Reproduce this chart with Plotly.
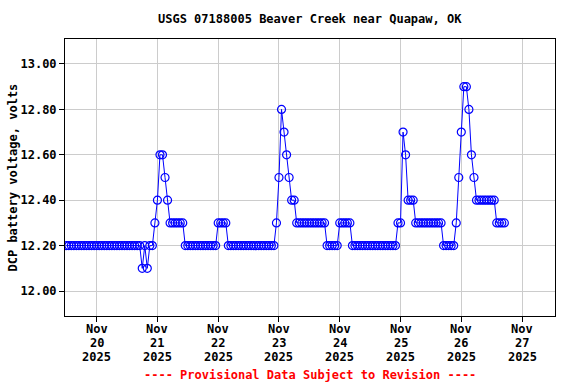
import plotly.graph_objects as go
import pandas as pd

start_time = "2025-11-19 12:00"
volts = [
    12.2, 12.2, 12.2, 12.2, 12.2, 12.2, 12.2, 12.2, 12.2, 12.2,
    12.2, 12.2, 12.2, 12.2, 12.2, 12.2, 12.2, 12.2, 12.2, 12.2,
    12.2, 12.2, 12.2, 12.2, 12.2, 12.2, 12.2, 12.2, 12.2, 12.2,
    12.1, 12.2, 12.1, 12.2, 12.2, 12.3, 12.4, 12.6, 12.6, 12.5,
    12.4, 12.3, 12.3, 12.3, 12.3, 12.3, 12.3,
    12.2, 12.2, 12.2, 12.2, 12.2, 12.2, 12.2, 12.2, 12.2, 12.2, 12.2, 12.2, 12.2,
    12.3, 12.3, 12.3, 12.3,
    12.2, 12.2, 12.2, 12.2, 12.2, 12.2, 12.2, 12.2, 12.2, 12.2,
    12.2, 12.2, 12.2, 12.2, 12.2, 12.2, 12.2, 12.2, 12.2,
    12.3, 12.5, 12.8, 12.7, 12.6, 12.5, 12.4, 12.4,
    12.3, 12.3, 12.3, 12.3, 12.3, 12.3, 12.3, 12.3, 12.3, 12.3, 12.3, 12.3,
    12.2, 12.2, 12.2, 12.2, 12.2,
    12.3, 12.3, 12.3, 12.3, 12.3,
    12.2, 12.2, 12.2, 12.2, 12.2, 12.2, 12.2, 12.2, 12.2,
    12.2, 12.2, 12.2, 12.2, 12.2, 12.2, 12.2, 12.2, 12.2,
    12.3, 12.3, 12.7, 12.6, 12.4, 12.4, 12.4,
    12.3, 12.3, 12.3, 12.3, 12.3, 12.3, 12.3, 12.3, 12.3, 12.3, 12.3,
    12.2, 12.2, 12.2, 12.2, 12.2,
    12.3, 12.5, 12.7, 12.9, 12.9, 12.8, 12.6, 12.5,
    12.4, 12.4, 12.4, 12.4, 12.4, 12.4, 12.4, 12.4,
    12.3, 12.3, 12.3, 12.3,
]
times = pd.date_range(start_time, periods=len(volts), freq="h")

tick_dates = ["2025-11-20", "2025-11-21", "2025-11-22", "2025-11-23",
              "2025-11-24", "2025-11-25", "2025-11-26", "2025-11-27"]
tick_month = ["Nov"] * 8
tick_day = ["20", "21", "22", "23", "24", "25", "26", "27"]
tick_year = ["2025"] * 8
y_ticks = [12.0, 12.2, 12.4, 12.6, 12.8, 13.0]
y_labels = ["12.00", "12.20", "12.40", "12.60", "12.80", "13.00"]

title_text = "USGS 07188005 Beaver Creek near Quapaw, OK"
ylabel_text = "DCP battery voltage, volts"
footer_text = "---- Provisional Data Subject to Revision ----"

FONT = "DejaVu Sans Mono"

fig = go.Figure()
fig.add_trace(go.Scatter(
    x=times, y=volts, mode="lines+markers",
    line=dict(color="#0000ff", width=1),
    marker=dict(symbol="circle-open", size=8, color="#0000ff", line=dict(width=1.2)),
    showlegend=False,
))

annotations = [
    dict(text="<b>" + title_text + "</b>", xref="paper", yref="paper",
         x=0.5, y=1, yshift=20, xanchor="center", yanchor="middle",
         showarrow=False, font=dict(family=FONT, size=12, color="black")),
    dict(text="<b>" + ylabel_text + "</b>", xref="paper", yref="paper",
         x=0, xshift=-53, y=0.5, textangle=-90, xanchor="center", yanchor="middle",
         showarrow=False, font=dict(family=FONT, size=12, color="black")),
    dict(text="<b>" + footer_text + "</b>", xref="paper", yref="paper",
         x=0.5, y=0, yshift=-59, xanchor="center", yanchor="middle",
         showarrow=False, font=dict(family=FONT, size=12, color="#ff0000")),
]
for d, m, dy, yr in zip(tick_dates, tick_month, tick_day, tick_year):
    for txt, shift in ((m, -13), (dy, -27), (yr, -41)):
        annotations.append(dict(
            text="<b>" + txt + "</b>", xref="x", yref="paper", x=d, y=0,
            yshift=shift, xanchor="center", yanchor="middle", showarrow=False,
            borderpad=0,
            font=dict(family=FONT, size=12, color="black")))

fig.update_layout(
    width=576, height=384,
    margin=dict(l=65, r=21, t=39, b=68),
    paper_bgcolor="white", plot_bgcolor="white",
    font=dict(family=FONT, size=12, color="black"),
    xaxis=dict(
        range=["2025-11-19 11:30", "2025-11-27 13:00"],
        tickmode="array", tickvals=tick_dates, ticktext=[""] * len(tick_dates),
        showgrid=True, gridcolor="#cccccc", gridwidth=1,
        showline=True, linecolor="black", linewidth=1, mirror=True,
        ticks="outside", ticklen=5, tickcolor="black",
        zeroline=False,
    ),
    yaxis=dict(
        range=[11.89, 13.11],
        tickmode="array", tickvals=y_ticks, ticktext=y_labels,
        showgrid=True, gridcolor="#cccccc", gridwidth=1,
        showline=True, linecolor="black", linewidth=1, mirror=True,
        ticks="outside", ticklen=5, tickcolor="black",
        tickfont=dict(family=FONT, size=12, color="black", weight="bold"),
        zeroline=False,
    ),
    annotations=annotations,
)

fig.write_html("out.html", config={"displayModeBar": False},
               post_script="document.body.style.margin='0';")
